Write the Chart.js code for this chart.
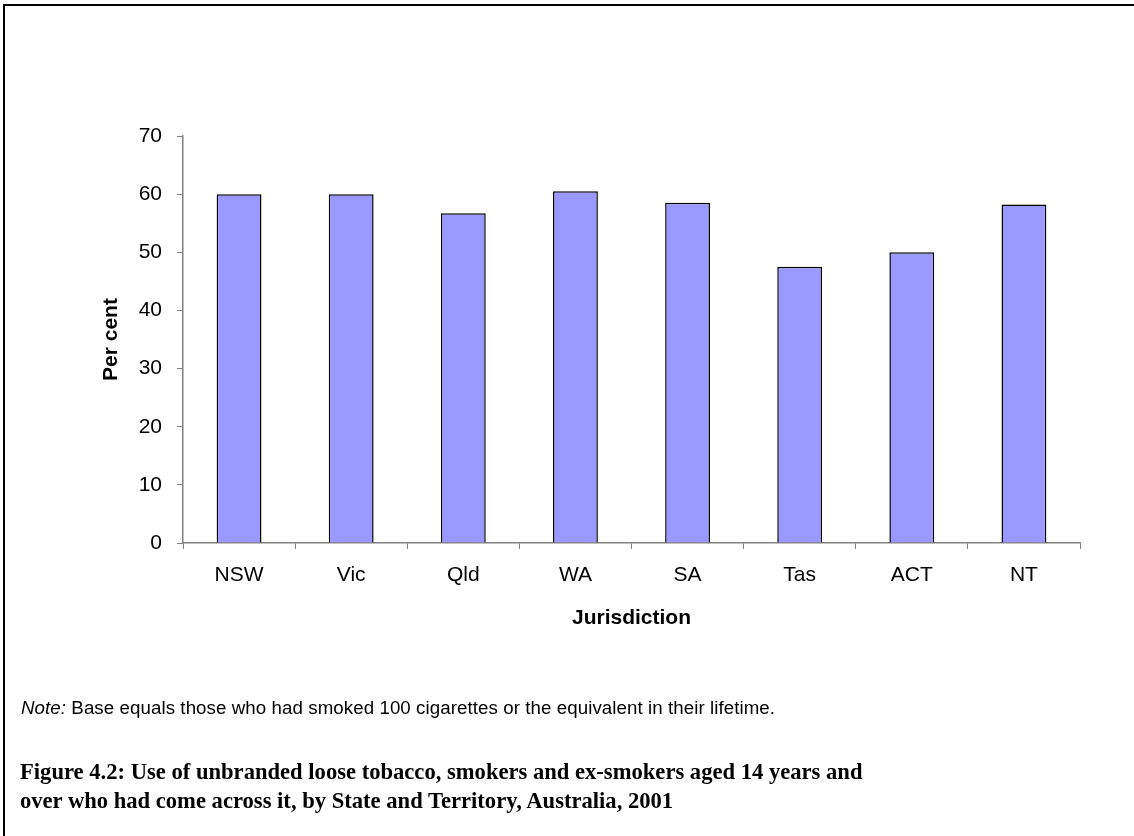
<!DOCTYPE html>
<html>
<head>
<meta charset="utf-8">
<script src="https://cdn.jsdelivr.net/npm/chart.js@4.4.1/dist/chart.umd.min.js"></script>
<style>
  html, body { margin:0; padding:0; background:#fff; width:1134px; height:836px; overflow:hidden; }
  #frame { position:absolute; left:3px; top:4px; width:1140px; height:840px; border-top:2px solid #000; border-left:2px solid #000; box-sizing:border-box; }
  #wrap { position:absolute; left:0; top:0; width:1134px; height:836px; }
  #note { position:absolute; left:21px; top:697px; font-family:"Liberation Sans", Arial, sans-serif; font-size:18.7px; letter-spacing:0.08px; line-height:22px; color:#000; white-space:nowrap; }
  #caption { position:absolute; left:20px; top:757px; font-family:"Liberation Serif", "DejaVu Serif", serif; font-weight:bold; font-size:22.6px; line-height:29px; color:#000; white-space:nowrap; }
</style>
</head>
<body>
<div id="frame"></div>
<div id="wrap"><canvas id="c" width="1134" height="836"></canvas></div>
<div id="note"><i>Note:</i> Base equals those who had smoked 100 cigarettes or the equivalent in their lifetime.</div>
<div id="caption">Figure 4.2: Use of unbranded loose tobacco, smokers and ex-smokers aged 14 years and<br>over who had come across it, by State and Territory, Australia, 2001</div>
<script>
const categories = ["NSW", "Vic", "Qld", "WA", "SA", "Tas", "ACT", "NT"];
const percentValues = [60.0, 60.0, 56.7, 60.5, 58.5, 47.5, 50.0, 58.2];
const yTicks = [0, 10, 20, 30, 40, 50, 60, 70];
const xTitle = "Jurisdiction";
const yTitle = "Per cent";

const font = "'Liberation Sans', Arial, sans-serif";
new Chart(document.getElementById('c'), {
  type: 'bar',
  data: {
    labels: categories,
    datasets: [{
      data: percentValues,
      backgroundColor: '#9999FF',
      borderColor: '#000000',
      borderWidth: 1.5,
      barPercentage: 0.4,
      categoryPercentage: 1.0
    }]
  },
  options: {
    responsive: false,
    animation: false,
    devicePixelRatio: 1,
    layout: { padding: { left: 98, top: 136, right: 54, bottom: 205 } },
    plugins: { legend: { display: false }, tooltip: { enabled: false } },
    scales: {
      x: {
        offset: true,
        grid: { display: true, offset: true, drawOnChartArea: false, drawTicks: true, tickLength: 6, color: '#808080', lineWidth: 1 },
        border: { display: true, color: '#808080', width: 1.5 },
        ticks: { color: '#000', font: { family: font, size: 21 }, padding: 14 },
        title: { display: true, text: xTitle, color: '#000', font: { family: font, size: 21, weight: 'bold' }, padding: { top: 0, bottom: 0 } },
        afterFit: (s) => { s.height = 88; }
      },
      y: {
        min: 0, max: 70,
        afterBuildTicks: (s) => { s.ticks = yTicks.map(v => ({ value: v })); },
        grid: { display: true, drawOnChartArea: false, drawTicks: true, tickLength: 6, color: '#808080', lineWidth: 1 },
        border: { display: true, color: '#808080', width: 1.5 },
        ticks: { color: '#000', font: { family: font, size: 21 }, padding: 15 },
        title: { display: true, text: yTitle, color: '#000', font: { family: font, size: 21, weight: 'bold' }, padding: { top: 1, bottom: 0 } },
        afterFit: (s) => { s.width = 85; }
      }
    }
  }
});
</script>
</body>
</html>
